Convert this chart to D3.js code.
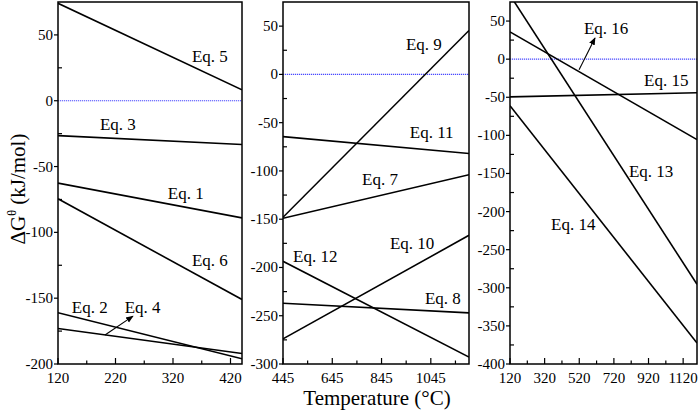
<!DOCTYPE html>
<html><head><meta charset="utf-8">
<script src="https://cdn.jsdelivr.net/npm/d3@7"></script>
<style>
body{margin:0;background:#fff;}
</style></head>
<body><svg id="c" width="700" height="412" font-family="'Liberation Serif', 'DejaVu Serif', 'Times New Roman', serif"></svg>
<script>
// ---- data ----
const leftTemps = [120, 440];
const leftNames = ["Eq. 1","Eq. 2","Eq. 3","Eq. 4","Eq. 5","Eq. 6"];
const leftStart = [-62.6, -161, -26.5, -173, 74, -74.5];
const leftEnd   = [-89, -196, -33.3, -192, 8.3, -151];
const leftLabelT = [311, 144, 193, 236, 353, 353];
const leftLabelV = [-74.7, -161.3, -22.3, -161.3, 29.4, -125.6];
const leftXTicks = [120, 220, 320, 420];

const midTemps = [445, 1200];
const midNames = ["Eq. 7","Eq. 8","Eq. 9","Eq. 10","Eq. 11","Eq. 12"];
const midStart = [-149, -237, -148, -274, -64.5, -193.6];
const midEnd   = [-104, -247, 45.5, -166.7, -82, -292.8];
const midLabelT = [766, 1021, 944, 879, 960, 486];
const midLabelV = [-115, -238, 25.4, -181, -65.5, -194.6];
const midXTicks = [445, 645, 845, 1045];

const rightTemps = [120, 1200];
const rightNames = ["Eq. 13","Eq. 14","Eq. 15","Eq. 16"];
const rightStart = [84, -61, -49.5, 35.7];
const rightEnd   = [-295.4, -372.6, -44, -105.6];
const rightLabelT = [807, 357, 894, 547];
const rightLabelV = [-154, -224.7, -35, 33];
const rightXTicks = [120, 320, 520, 720, 920, 1120];

// arrows: [fromT, fromV, toT, toV]
const arrowEq4 = [201.7, -178, 250.4, -163.6];
const arrowEq16 = [519, -14, 611, 27.9];

// ---- layout ----
const FONT = "Liberation Serif";
const svg = d3.select("#c");
const yTop = 2, yBottom = 364;
const defs = svg.append("defs");
defs.append("marker")
  .attr("id","ah").attr("viewBox","0 0 10 10").attr("refX",9).attr("refY",5)
  .attr("markerWidth",7).attr("markerHeight",7).attr("orient","auto")
  .append("path").attr("d","M0,1 L10,5 L0,9 Z").attr("fill","#000");

const panels = [
  {x0:58, x1:242, xDom:[120,440], yDom:[-200,75], xTicks:leftXTicks, xMinorStep:50,
   temps:leftTemps, names:leftNames, start:leftStart, end:leftEnd, lt:leftLabelT, lv:leftLabelV, arrows:[arrowEq4]},
  {x0:283, x1:469, xDom:[445,1200], yDom:[-300,75], xTicks:midXTicks, xMinorStep:100,
   temps:midTemps, names:midNames, start:midStart, end:midEnd, lt:midLabelT, lv:midLabelV, arrows:[]},
  {x0:510, x1:697, xDom:[120,1200], yDom:[-400,75], xTicks:rightXTicks, xMinorStep:100,
   temps:rightTemps, names:rightNames, start:rightStart, end:rightEnd, lt:rightLabelT, lv:rightLabelV, arrows:[arrowEq16]}
];

function txt(sel) { return sel.append("text").attr("font-family", FONT).attr("fill", "#000"); }

panels.forEach((p, i) => {
  const x = d3.scaleLinear().domain(p.xDom).range([p.x0, p.x1]);
  const y = d3.scaleLinear().domain(p.yDom).range([yBottom, yTop]);
  const g = svg.append("g");
  const cid = "clip" + i;
  defs.append("clipPath").attr("id", cid)
    .append("rect").attr("x", p.x0).attr("y", yTop).attr("width", p.x1 - p.x0).attr("height", yBottom - yTop);

  // zero line
  g.append("line").attr("x1", p.x0).attr("x2", p.x1).attr("y1", y(0)).attr("y2", y(0))
    .attr("stroke", "#4a4aff").attr("stroke-width", 1.2).attr("stroke-dasharray", "1.2,0.8");

  // lines
  const lg = g.append("g").attr("clip-path", `url(#${cid})`);
  p.names.forEach((n, k) => {
    lg.append("line")
      .attr("x1", x(p.temps[0])).attr("y1", y(p.start[k]))
      .attr("x2", x(p.temps[1])).attr("y2", y(p.end[k]))
      .attr("stroke", "#000").attr("stroke-width", 1.6);
    txt(g).attr("x", x(p.lt[k])).attr("y", y(p.lv[k]))
      .attr("font-size", 17).text(n);
  });
  p.arrows.forEach(a => {
    g.append("line").attr("x1", x(a[0])).attr("y1", y(a[1])).attr("x2", x(a[2])).attr("y2", y(a[3]))
      .attr("stroke", "#000").attr("stroke-width", 1.1).attr("marker-end", "url(#ah)");
  });

  // y axis: major outward with labels, minor inward
  const yMajor = d3.range(p.yDom[0], p.yDom[1] + 1, 50);
  const yMinor = d3.range(p.yDom[0] + 25, p.yDom[1], 50);
  yMajor.forEach(v => {
    g.append("line").attr("x1", p.x0 - 4).attr("x2", p.x0).attr("y1", y(v)).attr("y2", y(v))
      .attr("stroke", "#000").attr("stroke-width", 1.2);
    txt(g).attr("x", p.x0 - 5).attr("y", y(v) + 5).attr("text-anchor", "end")
      .attr("font-size", 15).text(v);
  });
  yMinor.forEach(v => {
    g.append("line").attr("x1", p.x0).attr("x2", p.x0 + 4).attr("y1", y(v)).attr("y2", y(v))
      .attr("stroke", "#000").attr("stroke-width", 1.2);
  });
  // x axis ticks inward
  p.xTicks.forEach(t => {
    g.append("line").attr("x1", x(t)).attr("x2", x(t)).attr("y1", yBottom).attr("y2", yBottom - 6)
      .attr("stroke", "#000").attr("stroke-width", 1.2);
    txt(g).attr("x", x(t)).attr("y", yBottom + 19).attr("text-anchor", "middle")
      .attr("font-size", 15).text(t);
  });
  d3.range(p.xTicks[0] + p.xMinorStep, p.xDom[1], p.xMinorStep * 2).forEach(t => {
    g.append("line").attr("x1", x(t)).attr("x2", x(t)).attr("y1", yBottom).attr("y2", yBottom - 3.5)
      .attr("stroke", "#000").attr("stroke-width", 1.2);
  });
  // frame
  g.append("rect").attr("x", p.x0).attr("y", yTop).attr("width", p.x1 - p.x0).attr("height", yBottom - yTop)
    .attr("fill", "none").attr("stroke", "#000").attr("stroke-width", 1.5);
});

// axis titles
txt(svg).attr("x", 377).attr("y", 405).attr("text-anchor", "middle")
  .attr("font-size", 21).text("Temperature (°C)");
const yt = txt(svg).attr("transform", "translate(25,189) rotate(-90)")
  .attr("text-anchor", "middle").attr("font-size", 21);
yt.append("tspan").text("ΔG");
yt.append("tspan").attr("font-size", 12).attr("dy", -9).text("θ");
yt.append("tspan").attr("dy", 9).text(" (kJ/mol)");
</script></body></html>
